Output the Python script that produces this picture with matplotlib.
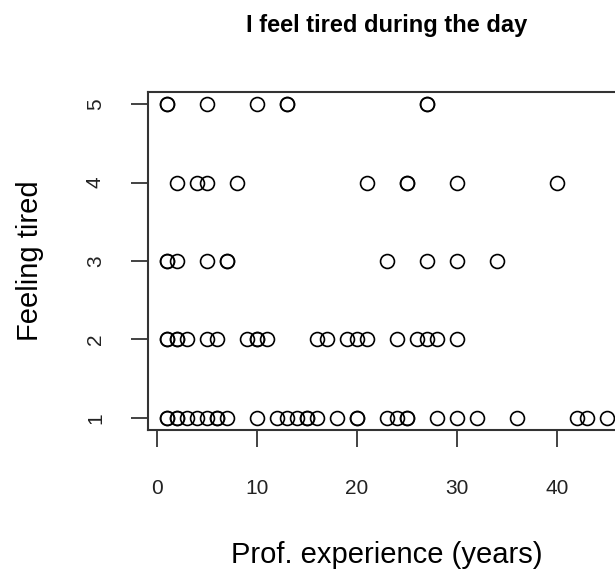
import matplotlib.pyplot as plt

# experience (years) of respondents for each answer level
levels = [1, 2, 3, 4, 5]
exp_level1 = [1, 1, 2, 2, 3, 4, 5, 6, 6, 7, 10, 12, 13, 14, 15, 15, 16, 18, 20, 20,
              23, 24, 25, 25, 28, 30, 32, 36, 42, 43, 45]
exp_level2 = [1, 1, 2, 2, 3, 5, 6, 9, 10, 10, 11, 16, 17, 19, 20, 21, 24, 26, 27, 28, 30]
exp_level3 = [1, 1, 2, 5, 7, 7, 23, 27, 30, 34]
exp_level4 = [2, 4, 5, 8, 21, 25, 25, 30, 40]
exp_level5 = [1, 1, 5, 10, 13, 13, 27, 27]
x_ticks = [0, 10, 20, 30, 40]

plt.rcParams['font.family'] = ['Liberation Sans', 'DejaVu Sans']

W, H = 615, 576
fig = plt.figure(figsize=(W / 100, H / 100), dpi=100)
ax = fig.add_axes([148 / W, (H - 430) / H, (625 - 148) / W, (430 - 92) / H])

for lev, xs in zip(levels, [exp_level1, exp_level2, exp_level3, exp_level4, exp_level5]):
    ax.plot(xs, [lev] * len(xs), linestyle='none', marker='o', markersize=10,
            markerfacecolor='none', markeredgecolor='black', markeredgewidth=1.2)

ax.set_xlim(-0.9, 46.8)
ax.set_ylim(0.847, 5.153)
ax.set_xticks(x_ticks)
ax.set_yticks(levels)
ax.set_yticklabels([str(v) for v in levels], rotation=90, va='center')
ax.tick_params(axis='both', length=12, width=1.2, labelsize=15, colors='#222222')
ax.tick_params(axis='x', pad=23)
ax.tick_params(axis='y', pad=19)
for s in ax.spines.values():
    s.set_linewidth(1.5)
    s.set_color('#333333')

ax.set_title('I feel tired during the day', fontsize=17, fontweight='bold', pad=43)
ax.set_xlabel('Prof. experience (years)', fontsize=21, labelpad=31)
ax.set_ylabel('Feeling tired', fontsize=21, labelpad=30)

fig.savefig('out.png', dpi=100)
